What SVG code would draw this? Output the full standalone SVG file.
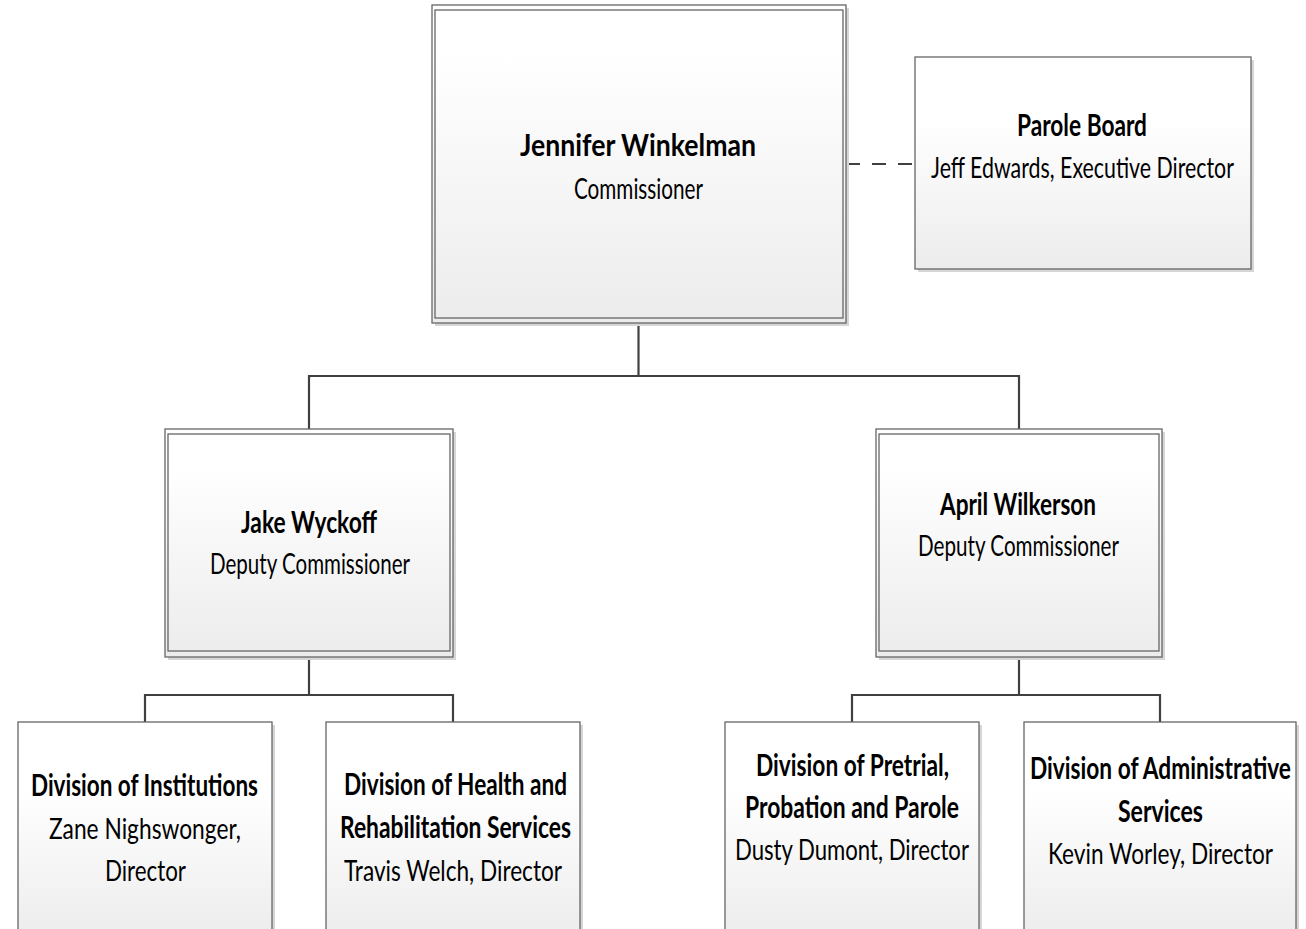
<svg xmlns="http://www.w3.org/2000/svg" width="1306" height="929" viewBox="0 0 1306 929">
  <defs>
    <linearGradient id="g" x1="0" y1="0" x2="0" y2="1">
      <stop offset="0" stop-color="#ffffff"/>
      <stop offset="0.3" stop-color="#ffffff"/>
      <stop offset="1" stop-color="#ececec"/>
    </linearGradient>
    <linearGradient id="g2" x1="0" y1="0" x2="0" y2="1">
      <stop offset="0" stop-color="#ffffff"/>
      <stop offset="0.15" stop-color="#ffffff"/>
      <stop offset="1" stop-color="#ececec"/>
    </linearGradient>
  </defs>
  <style>
    .box { fill: url(#g); stroke: #666666; stroke-width: 1.3; }
    .dbox { fill: url(#g2); stroke: #666666; stroke-width: 1.3; }
    .inner { fill: none; stroke: #666666; stroke-width: 1.3; }
    .shadow { fill: #d6d6d6; }
    .b { font-family: Lato, 'Liberation Sans', sans-serif; font-weight: bold; font-size: 25px; text-anchor: middle; fill: #000000; }
    .bs { font-family: Lato, 'Liberation Sans', sans-serif; font-weight: bold; font-size: 22px; text-anchor: middle; fill: #000000; }
    .r { font-family: Lato, 'Liberation Sans', sans-serif; font-weight: normal; font-size: 22.5px; text-anchor: middle; fill: #000000; }
    .conn { stroke: #404040; stroke-width: 2.2; fill: none; }
    .dash { stroke: #404040; stroke-width: 2.2; fill: none; stroke-dasharray: 14 12; }
  </style>

  <g id="connectors">
    <polyline class="conn" points="638.5,323 638.5,376"/>
    <polyline class="conn" points="309,429 309,376 1019,376 1019,429"/>
    <polyline class="conn" points="309,657 309,695"/>
    <polyline class="conn" points="145,722 145,695 453,695 453,722"/>
    <polyline class="conn" points="1019,657 1019,695"/>
    <polyline class="conn" points="852,722 852,695 1160,695 1160,722"/>
    <line class="dash" x1="846" y1="164" x2="915" y2="164"/>
  </g>

  <g id="commissioner">
    <rect class="shadow" x="435" y="8" width="414" height="318"/>
    <rect class="dbox" x="432" y="5" width="414" height="318"/>
    <rect class="inner" x="435" y="10" width="408" height="308"/>
    <g transform="scale(1,1.25)">
      <text class="b" x="638" y="124.8" textLength="236" lengthAdjust="spacingAndGlyphs">Jennifer Winkelman</text>
      <text class="r" x="638.5" y="159.2" textLength="129" lengthAdjust="spacingAndGlyphs">Commissioner</text>
    </g>
  </g>

  <g id="parole-board">
    <rect class="shadow" x="918" y="60" width="336" height="212"/>
    <rect class="box" x="915" y="57" width="336" height="212"/>
    <g transform="scale(1,1.25)">
      <text class="b" x="1082" y="108.8" textLength="130" lengthAdjust="spacingAndGlyphs">Parole Board</text>
      <text class="r" x="1082.5" y="142.4" textLength="303" lengthAdjust="spacingAndGlyphs">Jeff Edwards, Executive Director</text>
    </g>
  </g>

  <g id="jake-wyckoff">
    <rect class="shadow" x="168" y="432" width="288" height="228"/>
    <rect class="dbox" x="165" y="429" width="288" height="228"/>
    <rect class="inner" x="168" y="434" width="282" height="217"/>
    <g transform="scale(1,1.25)">
      <text class="b" x="309" y="426.4" textLength="136" lengthAdjust="spacingAndGlyphs">Jake Wyckoff</text>
      <text class="r" x="310" y="459.2" textLength="200" lengthAdjust="spacingAndGlyphs">Deputy Commissioner</text>
    </g>
  </g>

  <g id="april-wilkerson">
    <rect class="shadow" x="879" y="432" width="286" height="228"/>
    <rect class="dbox" x="876" y="429" width="286" height="228"/>
    <rect class="inner" x="879" y="434" width="280" height="217"/>
    <g transform="scale(1,1.25)">
      <text class="b" x="1018" y="412" textLength="156" lengthAdjust="spacingAndGlyphs">April Wilkerson</text>
      <text class="r" x="1018.5" y="444.8" textLength="201" lengthAdjust="spacingAndGlyphs">Deputy Commissioner</text>
    </g>
  </g>

  <g id="div-institutions">
    <rect class="shadow" x="21" y="725" width="254" height="220"/>
    <rect class="box" x="18" y="722" width="254" height="220"/>
    <g transform="scale(1,1.25)">
      <text class="b" x="144.5" y="636.8" textLength="227" lengthAdjust="spacingAndGlyphs">Division of Institutions</text>
      <text class="r" x="145" y="671.2" textLength="192" lengthAdjust="spacingAndGlyphs">Zane Nighswonger,</text>
      <text class="r" x="145.5" y="704.8" textLength="81" lengthAdjust="spacingAndGlyphs">Director</text>
    </g>
  </g>

  <g id="div-health">
    <rect class="shadow" x="329" y="725" width="254" height="220"/>
    <rect class="box" x="326" y="722" width="254" height="220"/>
    <g transform="scale(1,1.25)">
      <text class="b" x="455.5" y="636" textLength="223" lengthAdjust="spacingAndGlyphs">Division of Health and</text>
      <text class="b" x="455.5" y="670.4" textLength="231" lengthAdjust="spacingAndGlyphs">Rehabilitation Services</text>
      <text class="r" x="453" y="704.8" textLength="218" lengthAdjust="spacingAndGlyphs">Travis Welch, Director</text>
    </g>
  </g>

  <g id="div-pretrial">
    <rect class="shadow" x="728" y="725" width="254" height="220"/>
    <rect class="box" x="725" y="722" width="254" height="220"/>
    <g transform="scale(1,1.25)">
      <text class="b" x="852.5" y="620.8" textLength="193" lengthAdjust="spacingAndGlyphs">Division of Pretrial,</text>
      <text class="b" x="852" y="654.4" textLength="214" lengthAdjust="spacingAndGlyphs">Probation and Parole</text>
      <text class="r" x="852" y="688" textLength="234" lengthAdjust="spacingAndGlyphs">Dusty Dumont, Director</text>
    </g>
  </g>

  <g id="div-administrative">
    <rect class="shadow" x="1027" y="725" width="272" height="220"/>
    <rect class="box" x="1024" y="722" width="272" height="220"/>
    <g transform="scale(1,1.42)">
      <text class="bs" x="1160.5" y="548.6" textLength="261" lengthAdjust="spacingAndGlyphs">Division of Administrative</text>
    </g>
    <g transform="scale(1,1.25)">
      <text class="b" x="1160.5" y="657.6" textLength="85" lengthAdjust="spacingAndGlyphs">Services</text>
      <text class="r" x="1160.5" y="691.2" textLength="225" lengthAdjust="spacingAndGlyphs">Kevin Worley, Director</text>
    </g>
  </g>
</svg>
